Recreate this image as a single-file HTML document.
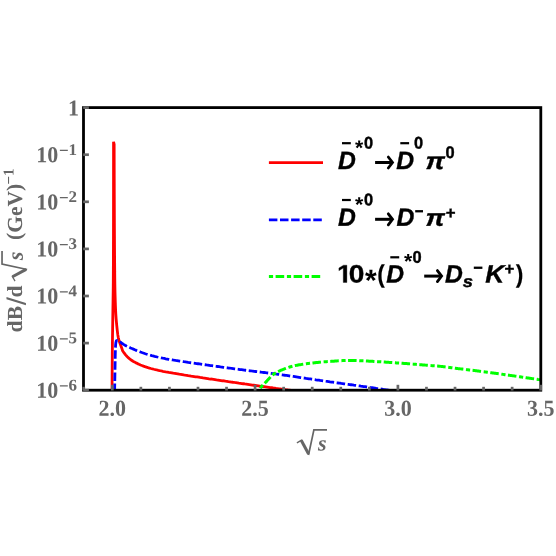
<!DOCTYPE html>
<html><head><meta charset="utf-8"><title>dB/d sqrt(s)</title>
<style>
html,body{margin:0;padding:0;background:#fff;}
body{width:556px;height:556px;overflow:hidden;font-family:"Liberation Sans",sans-serif;}
svg{display:block;will-change:transform;}
text{text-rendering:geometricPrecision;}
.ser{font-family:"Liberation Serif",serif;font-weight:bold;fill:#666;}
.leg{font-family:"Liberation Sans",sans-serif;font-weight:bold;fill:#000;}
.it{font-style:italic;}
</style></head>
<body>
<svg width="556" height="556" viewBox="0 0 556 556">
<rect x="0" y="0" width="556" height="556" fill="#fff"/>
<defs><clipPath id="pc"><rect x="83.5" y="107.6" width="457.29999999999995" height="282.6"/></clipPath></defs>

<!-- curves -->
<g clip-path="url(#pc)" fill="none" stroke-width="2.8" stroke-linejoin="bevel">
<path d="M112.05,392.00 L112.07,387.76 L112.09,383.52 L112.11,379.27 L112.14,375.03 L112.17,370.79 L112.20,366.55 L112.24,362.30 L112.28,358.06 L112.31,353.82 L112.36,349.58 L112.40,345.33 L112.44,341.09 L112.50,336.85 L112.56,332.61 L112.62,328.36 L112.69,324.12 L112.75,319.88 L112.82,315.64 L112.88,311.39 L112.94,307.15 L113.01,302.91 L113.07,298.67 L113.14,294.43 L113.20,290.18 L113.25,285.94 L113.29,281.70 L113.31,277.46 L113.34,273.21 L113.36,268.97 L113.38,264.73 L113.40,260.49 L113.41,256.24 L113.43,252.00 L113.44,247.76 L113.45,243.52 L113.47,239.27 L113.48,235.03 L113.48,230.79 L113.49,226.55 L113.50,222.31 L113.50,218.06 L113.51,213.82 L113.51,209.58 L113.52,205.34 L113.52,201.09 L113.52,196.85 L113.53,192.61 L113.53,188.37 L113.53,184.12 L113.54,179.88 L113.54,175.64 L113.54,171.40 L113.54,167.15 L113.55,162.91 L113.55,158.67 L113.55,154.43 L113.55,150.18 L113.55,145.94 L113.55,141.70 L114.15,144.35 L114.16,146.99 L114.16,149.64 L114.16,152.29 L114.17,154.93 L114.17,157.58 L114.18,160.23 L114.19,162.87 L114.19,165.52 L114.20,168.17 L114.21,170.82 L114.21,173.46 L114.22,176.11 L114.23,178.76 L114.24,181.40 L114.25,184.05 L114.25,186.70 L114.26,189.34 L114.27,191.99 L114.28,194.64 L114.29,197.28 L114.30,199.93 L114.31,202.58 L114.32,205.22 L114.33,207.87 L114.34,210.52 L114.35,213.16 L114.36,215.81 L114.37,218.46 L114.38,221.11 L114.39,223.75 L114.40,226.40 L114.42,229.05 L114.43,231.69 L114.44,234.34 L114.46,236.99 L114.47,239.63 L114.49,242.28 L114.50,244.93 L114.52,247.57 L114.54,250.22 L114.56,252.87 L114.57,255.51 L114.60,258.16 L114.62,260.81 L114.64,263.45 L114.66,266.10 L114.69,268.75 L114.71,271.39 L114.74,274.04 L114.76,276.69 L114.79,279.34 L114.82,281.98 L114.86,284.63 L114.91,287.28 L114.96,289.92 L115.02,292.57 L115.09,295.22 L115.17,297.86 L115.25,300.51 L115.34,303.16 L115.43,305.80 L115.54,308.45 L115.65,311.10 L115.79,313.74 L115.96,316.39 L116.16,319.04 L116.38,321.68 L116.63,324.33 L116.90,326.98 L117.18,329.63 L117.48,332.27 L117.83,334.92 L118.29,337.57 L118.97,340.21 L119.80,342.86 L120.78,345.51 L121.78,348.15 L122.60,350.80 L124.09,352.95 L125.58,354.88 L127.07,356.50 L128.56,357.93 L130.05,359.20 L131.54,360.30 L133.04,361.25 L134.53,362.11 L136.02,362.88 L137.51,363.61 L139.00,364.30 L140.49,364.96 L141.98,365.57 L143.47,366.15 L144.96,366.68 L146.45,367.18 L147.94,367.64 L149.43,368.07 L150.92,368.48 L152.42,368.87 L153.91,369.25 L155.40,369.62 L156.89,369.98 L158.38,370.33 L159.87,370.66 L161.36,370.98 L162.85,371.29 L164.34,371.58 L165.83,371.86 L167.32,372.13 L168.81,372.40 L170.30,372.66 L171.79,372.92 L173.29,373.18 L174.78,373.43 L176.27,373.68 L177.76,373.93 L179.25,374.18 L180.74,374.42 L182.23,374.66 L183.72,374.91 L185.21,375.15 L186.70,375.38 L188.19,375.62 L189.68,375.85 L191.17,376.08 L192.67,376.31 L194.16,376.54 L195.65,376.77 L197.14,376.99 L198.63,377.22 L200.12,377.45 L201.61,377.67 L203.10,377.90 L204.59,378.12 L206.08,378.34 L207.57,378.56 L209.06,378.79 L210.55,379.01 L212.05,379.23 L213.54,379.45 L215.03,379.67 L216.52,379.89 L218.01,380.10 L219.50,380.32 L220.99,380.54 L222.48,380.76 L223.97,380.97 L225.46,381.19 L226.95,381.40 L228.44,381.62 L229.93,381.83 L231.43,382.05 L232.92,382.26 L234.41,382.48 L235.90,382.69 L237.39,382.90 L238.88,383.12 L240.37,383.33 L241.86,383.54 L243.35,383.75 L244.84,383.97 L246.33,384.18 L247.82,384.39 L249.31,384.60 L250.81,384.81 L252.30,385.03 L253.79,385.24 L255.28,385.45 L256.77,385.66 L258.26,385.87 L259.75,386.08 L261.24,386.29 L262.73,386.50 L264.22,386.71 L265.71,386.92 L267.20,387.13 L268.69,387.34 L270.18,387.55 L271.68,387.76 L273.17,387.97 L274.66,388.17 L276.15,388.38 L277.64,388.58 L279.13,388.78 L280.62,388.99 L282.11,389.19 L283.60,389.39 L285.09,389.59 L286.58,389.79 L288.07,389.99 L289.56,390.18 L291.06,390.38 L292.55,390.57 L294.04,390.76 L295.53,390.95 L297.02,391.13 L298.51,391.32 L300.00,391.50" stroke="#ff0000"/>
<path d="M114.60,392.00 L114.62,390.94 L114.64,389.89 L114.65,388.83 L114.67,387.77 L114.69,386.71 L114.71,385.66 L114.73,384.60 L114.74,383.54 L114.76,382.49 L114.78,381.43 L114.80,380.37 L114.82,379.31 L114.84,378.26 L114.86,377.20 L114.88,376.14 L114.90,375.09 L114.92,374.03 L114.94,372.97 L114.96,371.91 L114.98,370.86 L115.00,369.80 L115.02,368.74 L115.04,367.69 L115.06,366.63 L115.08,365.57 L115.09,364.51 L115.11,363.46 L115.13,362.40 L115.14,361.34 L115.16,360.29 L115.18,359.23 L115.20,358.17 L115.22,357.11 L115.24,356.06 L115.26,355.00 L115.28,353.94 L115.31,352.89 L115.34,351.83 L115.37,350.77 L115.40,349.71 L115.44,348.66 L115.48,347.60 L115.52,346.54 L115.58,345.49 L115.67,344.43 L115.78,343.37 L115.93,342.31 L116.21,341.26 L116.60,340.20 L118.00,340.68 L119.41,341.43 L120.81,342.49 L122.22,343.56 L123.62,344.39 L125.02,345.17 L126.43,345.91 L127.83,346.62 L129.24,347.29 L130.64,347.93 L132.04,348.56 L133.45,349.16 L134.85,349.75 L136.26,350.34 L137.66,350.91 L139.06,351.46 L140.47,352.00 L141.87,352.52 L143.28,353.02 L144.68,353.51 L146.08,353.97 L147.49,354.41 L148.89,354.82 L150.30,355.22 L151.70,355.61 L153.10,355.98 L154.51,356.34 L155.91,356.68 L157.32,357.01 L158.72,357.33 L160.12,357.64 L161.53,357.94 L162.93,358.22 L164.34,358.49 L165.74,358.76 L167.14,359.01 L168.55,359.26 L169.95,359.50 L171.36,359.74 L172.76,359.98 L174.16,360.21 L175.57,360.43 L176.97,360.64 L178.38,360.85 L179.78,361.07 L181.18,361.28 L182.59,361.49 L183.99,361.71 L185.40,361.92 L186.80,362.13 L188.21,362.34 L189.61,362.54 L191.01,362.75 L192.42,362.95 L193.82,363.15 L195.23,363.35 L196.63,363.55 L198.03,363.75 L199.44,363.95 L200.84,364.15 L202.25,364.35 L203.65,364.55 L205.05,364.75 L206.46,364.95 L207.86,365.14 L209.27,365.34 L210.67,365.54 L212.07,365.73 L213.48,365.93 L214.88,366.12 L216.29,366.32 L217.69,366.51 L219.09,366.70 L220.50,366.90 L221.90,367.09 L223.31,367.28 L224.71,367.47 L226.11,367.66 L227.52,367.85 L228.92,368.04 L230.33,368.23 L231.73,368.41 L233.13,368.60 L234.54,368.79 L235.94,368.97 L237.35,369.16 L238.75,369.34 L240.15,369.53 L241.56,369.71 L242.96,369.89 L244.37,370.08 L245.77,370.26 L247.17,370.44 L248.58,370.62 L249.98,370.80 L251.39,370.98 L252.79,371.15 L254.19,371.32 L255.60,371.49 L257.00,371.66 L258.41,371.83 L259.81,371.99 L261.21,372.16 L262.62,372.32 L264.02,372.49 L265.43,372.66 L266.83,372.83 L268.23,373.00 L269.64,373.17 L271.04,373.35 L272.45,373.53 L273.85,373.71 L275.25,373.90 L276.66,374.09 L278.06,374.28 L279.47,374.47 L280.87,374.67 L282.27,374.86 L283.68,375.06 L285.08,375.26 L286.49,375.46 L287.89,375.66 L289.29,375.87 L290.70,376.07 L292.10,376.28 L293.51,376.48 L294.91,376.69 L296.31,376.90 L297.72,377.11 L299.12,377.32 L300.53,377.53 L301.93,377.74 L303.33,377.95 L304.74,378.15 L306.14,378.36 L307.55,378.57 L308.95,378.78 L310.35,378.99 L311.76,379.20 L313.16,379.41 L314.57,379.61 L315.97,379.82 L317.37,380.02 L318.78,380.22 L320.18,380.43 L321.59,380.63 L322.99,380.83 L324.39,381.03 L325.80,381.23 L327.20,381.42 L328.61,381.62 L330.01,381.82 L331.42,382.02 L332.82,382.21 L334.22,382.41 L335.63,382.61 L337.03,382.80 L338.44,383.00 L339.84,383.19 L341.24,383.39 L342.65,383.58 L344.05,383.78 L345.46,383.97 L346.86,384.17 L348.26,384.36 L349.67,384.56 L351.07,384.75 L352.48,384.95 L353.88,385.15 L355.28,385.34 L356.69,385.54 L358.09,385.73 L359.50,385.93 L360.90,386.13 L362.30,386.32 L363.71,386.52 L365.11,386.72 L366.52,386.92 L367.92,387.12 L369.32,387.32 L370.73,387.52 L372.13,387.72 L373.54,387.92 L374.94,388.12 L376.34,388.33 L377.75,388.53 L379.15,388.74 L380.56,388.94 L381.96,389.15 L383.36,389.36 L384.77,389.56 L386.17,389.77 L387.58,389.99 L388.98,390.20 L390.38,390.41 L391.79,390.63 L393.19,390.85 L394.60,391.08 L396.00,391.30" stroke="#0000ff" stroke-dasharray="8.5 2.6"/>
<path d="M258.50,392.00 L259.44,389.76 L260.39,388.06 L261.33,386.75 L262.28,385.62 L263.22,384.62 L264.16,383.69 L265.11,382.79 L266.05,381.86 L267.00,380.86 L267.94,379.82 L268.89,378.77 L269.83,377.74 L270.77,376.74 L271.72,375.80 L272.66,374.95 L273.61,374.20 L274.55,373.57 L275.49,373.00 L276.44,372.46 L277.38,371.96 L278.33,371.49 L279.27,371.05 L280.22,370.63 L281.16,370.23 L282.10,369.84 L283.05,369.46 L283.99,369.08 L284.94,368.71 L285.88,368.35 L286.82,368.00 L287.77,367.66 L288.71,367.34 L289.66,367.03 L290.60,366.73 L291.55,366.45 L292.49,366.19 L293.43,365.95 L294.38,365.74 L295.32,365.54 L296.27,365.35 L297.21,365.16 L298.15,364.99 L299.10,364.83 L300.04,364.67 L300.99,364.52 L301.93,364.37 L302.87,364.23 L303.82,364.10 L304.76,363.97 L305.71,363.84 L306.65,363.71 L307.60,363.58 L308.54,363.46 L309.48,363.34 L310.43,363.22 L311.37,363.11 L312.32,363.00 L313.26,362.89 L314.20,362.79 L315.15,362.69 L316.09,362.59 L317.04,362.49 L317.98,362.40 L318.93,362.31 L319.87,362.22 L320.81,362.13 L321.76,362.05 L322.70,361.96 L323.65,361.88 L324.59,361.80 L325.53,361.72 L326.48,361.65 L327.42,361.58 L328.37,361.51 L329.31,361.45 L330.26,361.38 L331.20,361.32 L332.14,361.26 L333.09,361.19 L334.03,361.13 L334.98,361.06 L335.92,361.00 L336.86,360.93 L337.81,360.87 L338.75,360.81 L339.70,360.75 L340.64,360.70 L341.58,360.65 L342.53,360.60 L343.47,360.55 L344.42,360.51 L345.36,360.48 L346.31,360.45 L347.25,360.43 L348.19,360.41 L349.14,360.40 L350.08,360.40 L351.03,360.41 L351.97,360.42 L352.91,360.43 L353.86,360.45 L354.80,360.48 L355.75,360.51 L356.69,360.55 L357.64,360.59 L358.58,360.63 L359.52,360.67 L360.47,360.72 L361.41,360.77 L362.36,360.82 L363.30,360.87 L364.24,360.92 L365.19,360.97 L366.13,361.02 L367.08,361.07 L368.02,361.12 L368.97,361.17 L369.91,361.22 L370.85,361.26 L371.80,361.31 L372.74,361.36 L373.69,361.41 L374.63,361.47 L375.57,361.52 L376.52,361.58 L377.46,361.64 L378.41,361.69 L379.35,361.75 L380.29,361.81 L381.24,361.87 L382.18,361.93 L383.13,361.99 L384.07,362.06 L385.02,362.12 L385.96,362.18 L386.90,362.24 L387.85,362.30 L388.79,362.37 L389.74,362.43 L390.68,362.49 L391.62,362.55 L392.57,362.62 L393.51,362.68 L394.46,362.75 L395.40,362.81 L396.35,362.88 L397.29,362.94 L398.23,363.01 L399.18,363.07 L400.12,363.14 L401.07,363.21 L402.01,363.28 L402.95,363.34 L403.90,363.41 L404.84,363.48 L405.79,363.55 L406.73,363.62 L407.68,363.69 L408.62,363.76 L409.56,363.84 L410.51,363.91 L411.45,363.98 L412.40,364.05 L413.34,364.13 L414.28,364.20 L415.23,364.28 L416.17,364.36 L417.12,364.43 L418.06,364.51 L419.01,364.59 L419.95,364.66 L420.89,364.74 L421.84,364.82 L422.78,364.90 L423.73,364.98 L424.67,365.05 L425.61,365.13 L426.56,365.21 L427.50,365.29 L428.45,365.36 L429.39,365.44 L430.33,365.51 L431.28,365.59 L432.22,365.66 L433.17,365.73 L434.11,365.80 L435.06,365.87 L436.00,365.95 L436.94,366.03 L437.89,366.11 L438.83,366.19 L439.78,366.28 L440.72,366.37 L441.66,366.47 L442.61,366.58 L443.55,366.69 L444.50,366.80 L445.44,366.92 L446.39,367.05 L447.33,367.17 L448.27,367.30 L449.22,367.43 L450.16,367.55 L451.11,367.68 L452.05,367.81 L452.99,367.94 L453.94,368.06 L454.88,368.18 L455.83,368.30 L456.77,368.42 L457.72,368.54 L458.66,368.65 L459.60,368.76 L460.55,368.88 L461.49,368.99 L462.44,369.10 L463.38,369.22 L464.32,369.33 L465.27,369.44 L466.21,369.56 L467.16,369.67 L468.10,369.78 L469.04,369.89 L469.99,370.01 L470.93,370.12 L471.88,370.24 L472.82,370.35 L473.77,370.47 L474.71,370.59 L475.65,370.71 L476.60,370.83 L477.54,370.95 L478.49,371.07 L479.43,371.19 L480.37,371.31 L481.32,371.43 L482.26,371.56 L483.21,371.68 L484.15,371.80 L485.10,371.93 L486.04,372.05 L486.98,372.18 L487.93,372.30 L488.87,372.43 L489.82,372.56 L490.76,372.68 L491.70,372.81 L492.65,372.94 L493.59,373.07 L494.54,373.20 L495.48,373.32 L496.43,373.45 L497.37,373.58 L498.31,373.71 L499.26,373.85 L500.20,373.98 L501.15,374.11 L502.09,374.24 L503.03,374.38 L503.98,374.51 L504.92,374.64 L505.87,374.78 L506.81,374.91 L507.75,375.05 L508.70,375.18 L509.64,375.32 L510.59,375.45 L511.53,375.59 L512.48,375.72 L513.42,375.86 L514.36,375.99 L515.31,376.13 L516.25,376.27 L517.20,376.40 L518.14,376.54 L519.08,376.67 L520.03,376.81 L520.97,376.95 L521.92,377.09 L522.86,377.22 L523.81,377.36 L524.75,377.50 L525.69,377.64 L526.64,377.77 L527.58,377.91 L528.53,378.05 L529.47,378.19 L530.41,378.33 L531.36,378.47 L532.30,378.61 L533.25,378.75 L534.19,378.89 L535.14,379.04 L536.08,379.18 L537.02,379.32 L537.97,379.47 L538.91,379.61 L539.86,379.75 L540.80,379.90" stroke="#00ff00" stroke-width="3" stroke-dasharray="4.2 2.45 8.55 2.65" stroke-dashoffset="-4.2"/>
</g>

<!-- frame -->
<rect x="83.5" y="107.6" width="457.30" height="282.60" fill="none" stroke="#000" stroke-width="2.8"/>
<g stroke="#666" stroke-width="2.7">
<line x1="83.74" y1="390.50" x2="83.74" y2="386.80"/>
<line x1="112.30" y1="390.50" x2="112.30" y2="384.80"/>
<line x1="140.86" y1="390.50" x2="140.86" y2="386.80"/>
<line x1="169.42" y1="390.50" x2="169.42" y2="386.80"/>
<line x1="197.98" y1="390.50" x2="197.98" y2="386.80"/>
<line x1="226.54" y1="390.50" x2="226.54" y2="386.80"/>
<line x1="255.10" y1="390.50" x2="255.10" y2="384.80"/>
<line x1="283.66" y1="390.50" x2="283.66" y2="386.80"/>
<line x1="312.22" y1="390.50" x2="312.22" y2="386.80"/>
<line x1="340.78" y1="390.50" x2="340.78" y2="386.80"/>
<line x1="369.34" y1="390.50" x2="369.34" y2="386.80"/>
<line x1="397.90" y1="390.50" x2="397.90" y2="384.80"/>
<line x1="426.46" y1="390.50" x2="426.46" y2="386.80"/>
<line x1="455.02" y1="390.50" x2="455.02" y2="386.80"/>
<line x1="483.58" y1="390.50" x2="483.58" y2="386.80"/>
<line x1="512.14" y1="390.50" x2="512.14" y2="386.80"/>
<line x1="540.70" y1="390.50" x2="540.70" y2="384.80"/>
<line x1="83.20" y1="107.60" x2="88.90" y2="107.60"/>
<line x1="83.20" y1="154.70" x2="88.90" y2="154.70"/>
<line x1="83.20" y1="201.80" x2="88.90" y2="201.80"/>
<line x1="83.20" y1="248.90" x2="88.90" y2="248.90"/>
<line x1="83.20" y1="296.00" x2="88.90" y2="296.00"/>
<line x1="83.20" y1="343.10" x2="88.90" y2="343.10"/>
<line x1="83.20" y1="390.20" x2="88.90" y2="390.20"/>
</g>

<!-- tick labels -->
<g class="ser" font-size="22">
<text text-anchor="middle" font-size="22" transform="translate(112.30,415.70) rotate(0.03) scale(1.0,1.035)">2.0</text>
<text text-anchor="middle" font-size="22" transform="translate(255.10,415.70) rotate(0.03) scale(1.0,1.035)">2.5</text>
<text text-anchor="middle" font-size="22" transform="translate(397.90,415.70) rotate(0.03) scale(1.0,1.035)">3.0</text>
<text text-anchor="middle" font-size="22" transform="translate(540.70,415.70) rotate(0.03) scale(1.0,1.035)">3.5</text>
<text text-anchor="end" font-size="22" transform="translate(78.90,115.50) rotate(0.03) scale(1.0,1.035)">1</text>
<text text-anchor="end" font-size="22" transform="translate(58.20,162.30) rotate(0.03) scale(1.0,1.035)">10</text><text text-anchor="start" font-size="17" transform="translate(58.90,156.10) rotate(0.03) scale(1.0,1.0)">−</text><text text-anchor="start" font-size="17" transform="translate(68.60,154.90) rotate(0.03) scale(1.0,0.96)">1</text>
<text text-anchor="end" font-size="22" transform="translate(58.20,209.40) rotate(0.03) scale(1.0,1.035)">10</text><text text-anchor="start" font-size="17" transform="translate(58.90,203.20) rotate(0.03) scale(1.0,1.0)">−</text><text text-anchor="start" font-size="17" transform="translate(68.60,202.00) rotate(0.03) scale(1.0,0.96)">2</text>
<text text-anchor="end" font-size="22" transform="translate(58.20,256.50) rotate(0.03) scale(1.0,1.035)">10</text><text text-anchor="start" font-size="17" transform="translate(58.90,250.30) rotate(0.03) scale(1.0,1.0)">−</text><text text-anchor="start" font-size="17" transform="translate(68.60,249.10) rotate(0.03) scale(1.0,0.96)">3</text>
<text text-anchor="end" font-size="22" transform="translate(58.20,303.60) rotate(0.03) scale(1.0,1.035)">10</text><text text-anchor="start" font-size="17" transform="translate(58.90,297.40) rotate(0.03) scale(1.0,1.0)">−</text><text text-anchor="start" font-size="17" transform="translate(68.60,296.20) rotate(0.03) scale(1.0,0.96)">4</text>
<text text-anchor="end" font-size="22" transform="translate(58.20,350.70) rotate(0.03) scale(1.0,1.035)">10</text><text text-anchor="start" font-size="17" transform="translate(58.90,344.50) rotate(0.03) scale(1.0,1.0)">−</text><text text-anchor="start" font-size="17" transform="translate(68.60,343.30) rotate(0.03) scale(1.0,0.96)">5</text>
<text text-anchor="end" font-size="22" transform="translate(58.20,397.80) rotate(0.03) scale(1.0,1.035)">10</text><text text-anchor="start" font-size="17" transform="translate(58.90,391.60) rotate(0.03) scale(1.0,1.0)">−</text><text text-anchor="start" font-size="17" transform="translate(68.60,390.40) rotate(0.03) scale(1.0,0.96)">6</text>
</g>

<g><g transform="translate(0.00,0.00)"><path d="M296.9,442.9 L302.0,439.9" stroke="#666" stroke-width="1.3" fill="none"/><path d="M301.2,440.3 L308.6,454.0" stroke="#666" stroke-width="3.0" fill="none"/><path d="M308.5,455.0 L313.9,429.9 L327.0,429.9" stroke="#666" stroke-width="1.7" fill="none" stroke-linejoin="miter"/></g><text class="ser it" font-size="22.0" transform="translate(317.90,450.60) rotate(0.03)">s</text></g>
<g transform="translate(21.9,331) rotate(-89.97)"><text class="ser" font-size="21.5" x="-1.6" y="0">d</text><text class="ser" font-size="21.5" x="10.86" y="0">B</text><path d="M25.8,4.0 L28.0,4.0 L33.9,-15.4 L31.7,-15.4 Z" fill="#666"/><text class="ser" font-size="21.5" x="33.4" y="0">d</text><g transform="translate(-296.9,-450.6) translate(51.5,0)"><g transform="translate(-1.60,0.80)"><path d="M296.9,442.9 L302.0,439.9" stroke="#666" stroke-width="1.3" fill="none"/><path d="M301.2,440.3 L308.6,454.0" stroke="#666" stroke-width="3.0" fill="none"/><path d="M308.5,455.0 L313.9,429.9 L327.0,429.9" stroke="#666" stroke-width="1.7" fill="none" stroke-linejoin="miter"/></g><text class="ser it" font-size="22.0" transform="translate(316.20,451.40) rotate(0.03)">s</text></g><text class="ser" font-size="21.5" x="91" y="-0.8">(</text><text class="ser" font-size="21.5" x="98.16" y="0">GeV</text><text class="ser" font-size="21.5" x="139.95" y="-0.8">)</text><text class="ser" font-size="15" x="146.5" y="-8.6">−1</text></g>

<!-- legend lines -->
<g fill="none" stroke-width="2.8">
<line x1="268.9" y1="162.6" x2="323" y2="162.6" stroke="#ff0000"/>
<line x1="268.9" y1="219.9" x2="323" y2="219.9" stroke="#0000ff" stroke-dasharray="8.5 2.6"/>
<line x1="268.9" y1="276.6" x2="320.3" y2="276.6" stroke="#00ff00" stroke-width="3" stroke-dasharray="4.2 2.5 8.6 2.7"/>
</g>

<g class="leg">
<text class="it" font-size="24" stroke="#000" stroke-width="0.35" transform="translate(338.04,168.90) rotate(0.03) scale(1.03,1.05)">D</text><rect x="342.00" y="142.10" width="8.80" height="2.20"/>
<text font-size="21.2" transform="translate(355.04,154.90) rotate(0.03) scale(1.0,1.0)">*</text><text font-size="16.4" stroke="#000" stroke-width="0.4" transform="translate(364.05,148.50) rotate(0.03) scale(1.0,1.03)">0</text>
<path d="M375.10,162.50 H391.50" stroke="#000" stroke-width="3.0" fill="none"/><path d="M388.30,157.00 L392.50,162.50 L388.30,168.00" stroke="#000" stroke-width="2.8" fill="none" stroke-linejoin="miter" stroke-linecap="round"/>
<text class="it" font-size="24" stroke="#000" stroke-width="0.35" transform="translate(396.34,168.90) rotate(0.03) scale(1.03,1.05)">D</text><rect x="400.30" y="142.10" width="8.80" height="2.20"/>
<text font-size="16.4" stroke="#000" stroke-width="0.4" transform="translate(413.95,148.55) rotate(0.03) scale(1.0,1.03)">0</text>
<text class="it" font-size="24" stroke="#000" stroke-width="0.35" transform="translate(425.58,168.90) rotate(0.03) scale(1.14,0.99)">π</text>
<text font-size="16.4" stroke="#000" stroke-width="0.4" transform="translate(445.55,158.10) rotate(0.03) scale(1.0,1.03)">0</text>
</g>
<g class="leg">
<text class="it" font-size="24" stroke="#000" stroke-width="0.35" transform="translate(338.04,225.70) rotate(0.03) scale(1.03,1.05)">D</text><rect x="342.00" y="198.90" width="8.80" height="2.20"/>
<text font-size="21.2" transform="translate(355.04,211.70) rotate(0.03) scale(1.0,1.0)">*</text><text font-size="16.4" stroke="#000" stroke-width="0.4" transform="translate(364.05,205.30) rotate(0.03) scale(1.0,1.03)">0</text>
<path d="M375.10,219.30 H391.50" stroke="#000" stroke-width="3.0" fill="none"/><path d="M388.30,213.80 L392.50,219.30 L388.30,224.80" stroke="#000" stroke-width="2.8" fill="none" stroke-linejoin="miter" stroke-linecap="round"/>
<text class="it" font-size="24" stroke="#000" stroke-width="0.35" transform="translate(396.44,225.70) rotate(0.03) scale(1.03,1.05)">D</text>
<rect x="415.20" y="210.10" width="7.80" height="2.30"/>
<text class="it" font-size="24" stroke="#000" stroke-width="0.35" transform="translate(425.58,225.70) rotate(0.03) scale(1.14,0.99)">π</text>
<text font-size="16.8" stroke="#000" stroke-width="0.4" transform="translate(445.69,218.40) rotate(0.03) scale(1.0,1.0)">+</text>
</g>
<g class="leg">
<path d="M478 0V1170L140 959V1180L493 1409H759V0Z" stroke="#000" stroke-width="25" transform="translate(337.1,282.5) scale(0.012891,-0.012305)"/>
<text font-size="24" stroke="#000" stroke-width="0.35" transform="translate(348.66,282.50) rotate(0.03) scale(1.17,1.05)">0</text>
<text font-size="30" transform="translate(365.11,290.40) rotate(0.03) scale(1.0,1.0)">*</text>
<text font-size="24" stroke="#000" stroke-width="0.15" transform="translate(377.24,282.50) rotate(0.03) scale(0.95,1.05)">(</text>
<text class="it" font-size="24" stroke="#000" stroke-width="0.35" transform="translate(386.34,282.50) rotate(0.03) scale(1.03,1.05)">D</text><rect x="390.30" y="256.20" width="8.90" height="2.20"/>
<text font-size="21.2" transform="translate(404.04,268.50) rotate(0.03) scale(1.0,1.0)">*</text><text font-size="16.4" stroke="#000" stroke-width="0.4" transform="translate(412.45,262.70) rotate(0.03) scale(1.0,1.03)">0</text>
<path d="M424.20,276.10 H440.60" stroke="#000" stroke-width="3.0" fill="none"/><path d="M437.40,270.60 L441.60,276.10 L437.40,281.60" stroke="#000" stroke-width="2.8" fill="none" stroke-linejoin="miter" stroke-linecap="round"/>
<text class="it" font-size="24" stroke="#000" stroke-width="0.35" transform="translate(445.04,282.50) rotate(0.03) scale(1.03,1.05)">D</text>
<text class="it" font-size="16.4" stroke="#000" stroke-width="0.4" transform="translate(462.79,287.00) rotate(0.03) scale(1.12,1.0)">s</text>
<rect x="473.80" y="266.60" width="8.60" height="2.30"/>
<text class="it" font-size="24" stroke="#000" stroke-width="0.35" transform="translate(485.21,282.50) rotate(0.03) scale(1.1,1.05)">K</text>
<text font-size="16.8" stroke="#000" stroke-width="0.4" transform="translate(504.59,274.50) rotate(0.03) scale(1.0,1.0)">+</text>
<text font-size="24" stroke="#000" stroke-width="0.15" transform="translate(515.75,282.50) rotate(0.03) scale(0.95,1.05)">)</text>
</g>
</svg>
</body></html>
